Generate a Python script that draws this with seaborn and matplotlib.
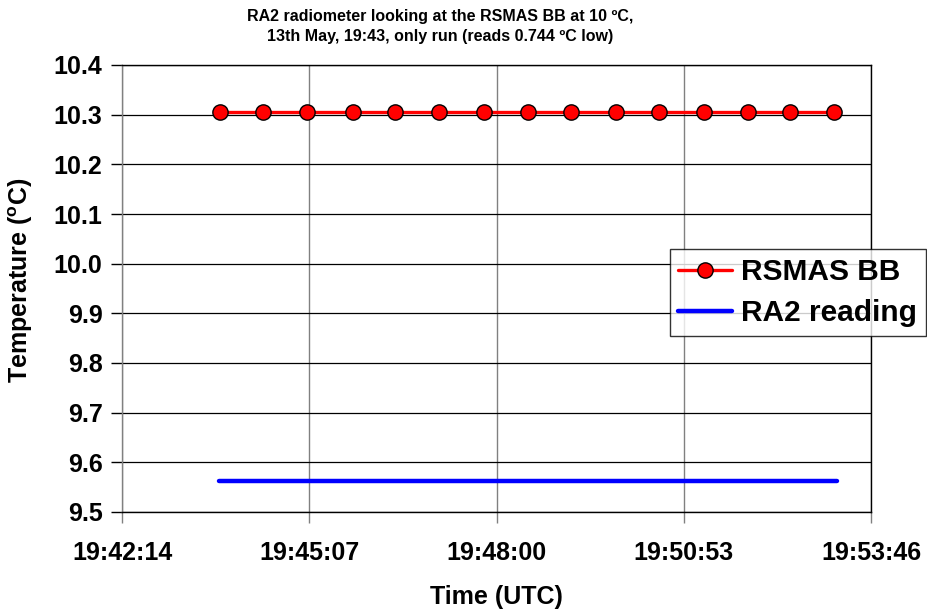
import matplotlib
matplotlib.use("Agg")
import matplotlib.pyplot as plt
import seaborn as sns
import pandas as pd

# ---- data ----
day = "2000-05-13 "
bb_times = ["19:43:45", "19:44:24", "19:45:05", "19:45:47", "19:46:26",
            "19:47:07", "19:47:48", "19:48:29", "19:49:09", "19:49:50",
            "19:50:30", "19:51:12", "19:51:52", "19:52:31", "19:53:12"]
bb_temps = [10.306] * 15
ra2_times = ["19:43:44", "19:53:15"]
ra2_temps = [9.563, 9.563]
xtick_labels = ["19:42:14", "19:45:07", "19:48:00", "19:50:53", "19:53:46"]
yticks = [9.5, 9.6, 9.7, 9.8, 9.9, 10.0, 10.1, 10.2, 10.3, 10.4]

bb = pd.DataFrame({"time": pd.to_datetime([day + t for t in bb_times]),
                   "temp": bb_temps, "series": "RSMAS BB"})
ra2 = pd.DataFrame({"time": pd.to_datetime([day + t for t in ra2_times]),
                    "temp": ra2_temps, "series": "RA2 reading"})

sns.set_style("white")
plt.rcParams["font.family"] = ["Liberation Sans", "DejaVu Sans"]
plt.rcParams["font.weight"] = "bold"
plt.rcParams["text.color"] = "black"
plt.rcParams["axes.labelcolor"] = "black"
plt.rcParams["xtick.color"] = "black"
plt.rcParams["ytick.color"] = "black"
plt.rcParams["mathtext.fontset"] = "custom"
plt.rcParams["mathtext.rm"] = "Liberation Sans:bold"
plt.rcParams["mathtext.bf"] = "Liberation Sans:bold"
plt.rcParams["mathtext.default"] = "bf"

fig = plt.figure(figsize=(9.27, 6.11), dpi=100)
ax = fig.add_axes([122 / 927, 1 - 512 / 611, (871 - 122) / 927, (512 - 65) / 611])

sns.lineplot(data=bb, x="time", y="temp", ax=ax, color="#ff0000", lw=2.4,
             marker="o", markersize=11, markerfacecolor="#ff0000",
             markeredgecolor="black", markeredgewidth=1.0, label="RSMAS BB",
             zorder=4)
sns.lineplot(data=ra2, x="time", y="temp", ax=ax, color="#0000ff", lw=3.2,
             label="RA2 reading", zorder=3, solid_capstyle="round")

xt = pd.to_datetime([day + t for t in xtick_labels])
ax.set_xlim(xt[0], xt[-1])
ax.set_xticks(xt)
ax.set_xticklabels(xtick_labels)
ax.set_ylim(9.5, 10.4)
ax.set_yticks(yticks)
ax.set_yticklabels([f"{v:.1f}" for v in yticks])

ax.xaxis.grid(True, color="#808080", lw=1.0)
ax.yaxis.grid(True, color="black", lw=0.9)
for s in ax.spines.values():
    s.set_color("black")
    s.set_linewidth(1.0)
ax.spines["left"].set_color("#808080")
ax.tick_params(axis="both", direction="out", length=8, width=1,
               labelsize=18, bottom=True, left=True, labelcolor="black")
ax.tick_params(axis="y", pad=6, color="black")
ax.tick_params(axis="x", pad=13, color="#808080")
for lab in ax.get_xticklabels() + ax.get_yticklabels():
    lab.set_fontweight("bold")

ax.set_xlabel("Time (UTC)", fontsize=18, fontweight="bold", labelpad=14)
ax.set_ylabel(r"Temperature ($^{o}$C)", fontsize=18, fontweight="bold")
ax.yaxis.set_label_coords(-0.116, 0.519)

fig.text(0.475, 1 - 17 / 611, "RA2 radiometer looking at the RSMAS BB at 10 ºC,",
         ha="center", va="center", fontsize=11.5, fontweight="bold")
fig.text(0.475, 1 - 37 / 611, "13th May, 19:43, only run (reads 0.744 ºC low)",
         ha="center", va="center", fontsize=11.5, fontweight="bold")

leg = ax.legend(loc="upper right", bbox_to_anchor=(926 / 927, 1 - 249 / 611),
                bbox_transform=fig.transFigure, frameon=True, fancybox=False,
                prop={"size": 21.5, "weight": "bold"}, borderpad=0.3,
                handlelength=1.8, handletextpad=0.3, labelspacing=0.45,
                borderaxespad=0)
leg.get_frame().set_edgecolor("black")
leg.get_frame().set_linewidth(1.0)
leg.set_zorder(10)
for t in leg.get_texts():
    t.set_color("black")

fig.savefig("out.png", dpi=100, facecolor="white")
